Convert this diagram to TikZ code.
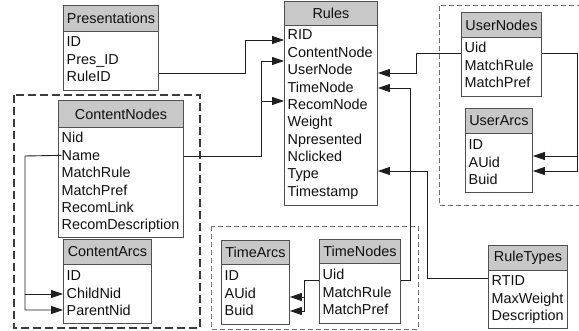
\documentclass[tikz,border=0pt]{standalone}
\usepackage{fontspec}
\setmainfont{Liberation Sans}
\usetikzlibrary{arrows.meta}
\definecolor{hdrgray}{RGB}{200,200,200}
\definecolor{boxline}{RGB}{80,80,80}
\definecolor{connline}{RGB}{30,30,30}
\definecolor{txtcol}{RGB}{15,15,15}
\definecolor{dashdark}{RGB}{60,60,60}
\definecolor{dashlight}{RGB}{115,115,115}
\tikzset{
  hdrbox/.style={draw=boxline, line width=0.9pt, fill=hdrgray, inner sep=0pt, text=txtcol,
    font=\fontsize{14.4pt}{17pt}\selectfont},
  bodybox/.style={draw=boxline, line width=0.9pt, fill=white, inner sep=0pt},
  rowtxt/.style={anchor=west, inner sep=0pt, text height=10pt, text depth=0pt, text=txtcol,
    font=\fontsize{14.4pt}{17pt}\selectfont},
  conn/.style={draw=connline, line width=0.9pt},
  arr/.style={conn, -{Triangle[length=12pt,width=8pt]}},
  grpdark/.style={draw=dashdark, line width=1.3pt, dash pattern=on 8pt off 4pt},
  grplight/.style={draw=dashlight, line width=0.9pt, dash pattern=on 5pt off 3pt},
}
% #1 name, #2 x1, #3 x2, #4 ytop, #5 y header bottom, #6 ybottom, #7 title, #8 first row centre, #9 rows
\newcommand{\dbtab}[9]{%
  \node[hdrbox, minimum width={(#3)-(#2)}, minimum height={(#5)-(#4)}, anchor=north west] (#1-h) at (#2,-#4) {#7};
  \node[bodybox, minimum width={(#3)-(#2)}, minimum height={(#6)-(#5)}, anchor=north west] (#1-b) at (#2,-#5) {};
  \foreach \rowname [count=\i from 0] in {#9} {
    \node[rowtxt] (#1-\i) at (#2+3.5, -#8-\i*17.35) {\rowname};
  }%
}
\begin{document}
\begin{tikzpicture}[x=1pt, y=1pt]
\useasboundingbox (0,0) rectangle (579,-331);
\clip (0,0) rectangle (579,-331);
\fill[white] (0,0) rectangle (579,-331);

% group frames
\draw[grpdark] (14,-95) rectangle (200,-328);
\draw[grplight] (211,-226) rectangle (418,-329);
\draw[grplight] (582,-5) -- (439,-5) -- (439,-205) -- (582,-205);

% tables
\dbtab{pres}{63}{158}{5}{31}{90}{Presentations}{42}{ID,Pres\_ID,RuleID}
\dbtab{rules}{284}{377}{1}{25}{205}{Rules}{35}{RID,ContentNode,UserNode,TimeNode,RecomNode,Weight,Npresented,Nclicked,Type,Timestamp}
\dbtab{un}{461}{541}{12}{37}{96}{UserNodes}{48}{Uid,MatchRule,MatchPref}
\dbtab{ua}{465}{532}{108}{133}{192}{UserArcs}{145}{ID,AUid,Buid}
\dbtab{cn}{58}{183}{100}{127}{237}{ContentNodes}{138}{Nid,Name,MatchRule,MatchPref,RecomLink,RecomDescription}
\dbtab{ca}{63}{151}{239}{264}{323}{ContentArcs}{276}{ID,ChildNid,ParentNid}
\dbtab{ta}{221}{289}{240}{264}{324}{TimeArcs}{276}{ID,AUid,Buid}
\dbtab{tn}{319}{400}{239}{263}{323}{TimeNodes}{275}{Uid,MatchRule,MatchPref}
\dbtab{rt}{488}{567}{245}{270}{328}{RuleTypes}{281}{RTID,MaxWeight,Description}

% connectors
\draw[arr] (pres-b.east |- 0,-73) -- (245,-73) -- (245,-40) -- (rules-b.west |- 0,-40);
\draw[arr] (cn-b.east |- 0,-156) -- (261,-156) -- (261,-61) -- (rules-b.west |- 0,-61);
\draw[arr] (261,-101) -- (rules-b.west |- 0,-101);
\draw[arr] (cn-1.west) -- (25,-156) -- (25,-310) -- (ca-b.west |- 0,-310);
\draw[arr] (25,-294) -- (ca-b.west |- 0,-294);
\draw[arr] (un-b.west |- 0,-53) -- (416,-53) -- (416,-73) -- (rules-b.east |- 0,-73);
\draw[arr] (tn-b.east |- 0,-280) -- (410,-280) -- (410,-88) -- (rules-b.east |- 0,-88);
\draw[arr] (rt-b.west |- 0,-278) -- (427,-278) -- (427,-171) -- (rules-b.east |- 0,-171);
\draw[arr] (un-b.east |- 0,-53) -- (577,-53) -- (577,-171) -- (ua-b.east |- 0,-171);
\draw[arr] (577,-156) -- (ua-b.east |- 0,-156);
\draw[arr] (tn-b.west |- 0,-280) -- (304,-280) -- (304,-311) -- (ta-b.east |- 0,-311);
\draw[arr] (304,-297) -- (ta-b.east |- 0,-297);
\end{tikzpicture}
\end{document}
